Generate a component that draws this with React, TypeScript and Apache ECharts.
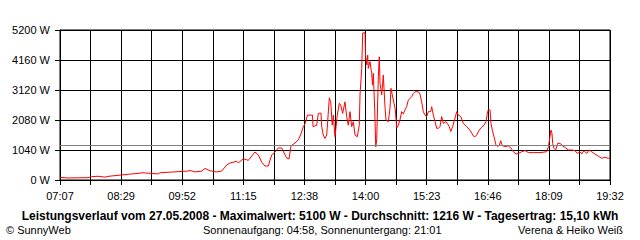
import React, { useEffect, useRef } from "react";
import * as echarts from "echarts";

// time of day in minutes since midnight
const times: number[] = [
  427, 437.8, 447.3, 464.9, 469.9, 478.5, 488, 493.4, 510.6, 528.6, 539.4, 559.7, 562.5, 578.3, 600.4, 603.1, 609.9, 618.9,
  623.4, 630.2, 639.3, 646, 652.8, 657.3, 666.3, 668.5, 675.3, 682.1, 691.1, 695.6, 700.2, 704.7, 709.2, 711.5, 713.8,
  718.2, 722.7, 727.3, 731.8, 734.1, 737.2, 739.9, 745.3, 749.8, 753.4, 756.6, 758.9, 762.2, 769, 769.7, 774.7, 776.9,
  780.5, 781.5, 783.6, 785.9, 788.3, 791.8, 793.7, 795.8, 797.2, 799.5, 802.6, 805.3, 807.2, 809.9, 813, 815.3, 817.5,
  819.8, 822.1, 824.3, 826.6, 829.7, 832.4, 833.4, 835.7, 837, 840.2, 840.8, 842.5, 843.8, 844.6, 846.9, 849.2, 850.3,
  851.4, 853.3, 854.7, 856, 858.2, 859.5, 860.5, 862.8, 864.9, 867.2, 868.6, 871.7, 874, 875.3, 877.1, 879.4, 881.2,
  883.1, 885.3, 887.5, 889.8, 892, 894.3, 896.6, 898.8, 901.1, 903.4, 905.6, 907.9, 912.3, 914.6, 916.9, 919.1, 921.4,
  923.7, 925.9, 929.1, 930.5, 932.7, 935, 937.3, 939.4, 941.7, 944, 946.2, 949.9, 951.6, 954.3, 956.2, 958.9, 962,
  964.4, 966.5, 969.8, 973.3, 977.9, 982.4, 986.8, 989.1, 991.4, 994.9, 998.2, 1001.3, 1004, 1005.8, 1007.1, 1009.5,
  1010.8, 1012.6, 1014.9, 1017.6, 1019.9, 1022.1, 1024, 1026.1, 1029.8, 1034.2, 1037.5, 1041, 1044.7, 1047.8, 1052.4,
  1056.9, 1061.4, 1068.1, 1077.2, 1086.3, 1088.5, 1090.7, 1092.1, 1093.4, 1094.4, 1096.1, 1098.4, 1101.1, 1104.3,
  1107.9, 1111, 1115.5, 1120.1, 1124.6, 1127.7, 1131.4, 1133.7, 1136.8, 1140.4, 1143.9, 1147.2, 1151.6, 1156.1,
  1160.7, 1165.2, 1169.7, 1172,
];

// power in W
const watts: number[] = [
  90, 70, 75, 80, 115, 130, 100, 130, 175, 220, 250, 210, 250, 275, 310, 330, 280, 310,
  400, 320, 280, 310, 520, 590, 650, 590, 740, 680, 970, 870, 620, 485, 485, 690, 870,
  970, 1110, 1110, 870, 760, 730, 1180, 1280, 1390, 1600, 1850, 1950, 2250, 2250, 1850, 1900, 2310,
  2320, 1850, 1560, 1440, 1560, 2850, 2710, 1900, 2250, 1500, 2250, 2660, 2600, 2310, 2710, 2200, 1900,
  2370, 1850, 2020, 1560, 1500, 1900, 2950, 3870, 5100, 5100, 4330, 3990, 4330, 3870, 4100, 3700, 3290,
  3700, 2430, 1150, 1390, 3580, 4270, 3350, 2950, 3640, 2540, 2080, 2020, 2490, 3180, 2950, 2660, 2430,
  1800, 1900, 2080, 2370, 2290, 2430, 2540, 2770, 2830, 2890, 3000, 3060, 3060, 2980, 2710, 2370, 2250,
  2200, 2370, 2370, 2540, 2250, 2020, 1790, 1790, 1850, 2200, 1960, 2020, 1960, 1850, 1680, 1850, 2140,
  2370, 2250, 2200, 1960, 1850, 1730, 1530, 1500, 1560, 1730, 1830, 1900, 2020, 2310, 2430, 2430,
  1960, 1730, 1500, 1210, 1160, 1210, 1360, 1190, 1160, 1180, 1120, 980, 900, 920, 980,
  1020, 950, 950, 950, 980, 1150, 1500, 1730, 1620, 1270, 1100, 1040, 1270, 1270,
  1180, 1130, 1040, 1040, 1020, 920, 980, 900, 1020, 920, 1040, 980, 900, 830,
  750, 790, 750, 770,
];

const xTickLabels: string[] = ["07:07", "08:29", "09:52", "11:15", "12:38", "14:00", "15:23", "16:46", "18:09", "19:32"];
const yMax = 5200;
const yStep = 1040;
const average = 1216;
const startMin = 427;
const endMin = 1172;
const xDivisions = 18;

const titleText = "Leistungsverlauf vom 27.05.2008 - Maximalwert: 5100 W - Durchschnitt: 1216 W - Tagesertrag: 15,10 kWh";
const leftFoot = "© SunnyWeb";
const midFoot = "Sonnenaufgang: 04:58, Sonnenuntergang: 21:01";
const rightFoot = "Verena & Heiko Weiß";

export default function App() {
  const ref = useRef<HTMLDivElement>(null);
  useEffect(() => {
    if (!ref.current) return;
    const chart = echarts.init(ref.current, undefined, { renderer: "svg" });
    const step = (endMin - startMin) / xDivisions;
    const data = times.map((t, i) => [(t - startMin) / step, watts[i]]);
    const font = "'Liberation Sans', Arial, sans-serif";
    chart.setOption({
      animation: false,
      backgroundColor: "#ffffff",
      grid: { left: 60, top: 30, width: 550, height: 150, containLabel: false },
      xAxis: {
        type: "value",
        min: 0,
        max: xDivisions,
        interval: 1,
        axisLine: { show: true, lineStyle: { color: "#000", width: 1 } },
        axisTick: { show: true, length: 5, lineStyle: { color: "#000", width: 1 } },
        splitLine: { show: true, lineStyle: { color: "#000", width: 1 } },
        axisLabel: {
          color: "#000",
          fontSize: 11,
          fontFamily: font,
          margin: 10,
          formatter: (v: number) => {
            const k = Math.round(v);
            return k % 2 === 0 ? xTickLabels[k / 2] : "";
          },
        },
      },
      yAxis: {
        type: "value",
        min: 0,
        max: yMax,
        interval: yStep,
        axisLine: { show: true, lineStyle: { color: "#000", width: 1 } },
        axisTick: { show: true, length: 5, lineStyle: { color: "#000", width: 1 } },
        splitLine: { show: true, lineStyle: { color: "#000", width: 1 } },
        axisLabel: { color: "#000", fontSize: 11, fontFamily: font, margin: 10, formatter: (v: number) => `${v} W` },
      },
      series: [
        {
          type: "line",
          data,
          showSymbol: false,
          lineStyle: { color: "#ff0000", width: 1 },
          markLine: {
            silent: true,
            symbol: "none",
            label: { show: false },
            lineStyle: { color: "#808080", width: 1, type: "solid" },
            data: [{ yAxis: average }],
          },
        },
      ],
      graphic: [
        {
          type: "rect",
          shape: { x: 60, y: 30, width: 550, height: 150 },
          style: { fill: "none", stroke: "#000", lineWidth: 1 },
          silent: true,
        },
        {
          type: "text",
          x: 320,
          y: 216,
          style: { text: titleText, fill: "#000", font: `bold 12px ${font}`, textAlign: "center", textVerticalAlign: "middle" },
        },
        {
          type: "text",
          x: 6,
          y: 229.5,
          style: { text: leftFoot, fill: "#000", font: `11px ${font}`, textAlign: "left", textVerticalAlign: "middle" },
        },
        {
          type: "text",
          x: 203,
          y: 229.5,
          style: { text: midFoot, fill: "#000", font: `11px ${font}`, textAlign: "left", textVerticalAlign: "middle" },
        },
        {
          type: "text",
          x: 623,
          y: 229.5,
          style: { text: rightFoot, fill: "#000", font: `11px ${font}`, textAlign: "right", textVerticalAlign: "middle" },
        },
      ],
    });
    return () => chart.dispose();
  }, []);
  return <div ref={ref} style={{ position: "fixed", left: 0, top: 0, width: 640, height: 240 }} />;
}
